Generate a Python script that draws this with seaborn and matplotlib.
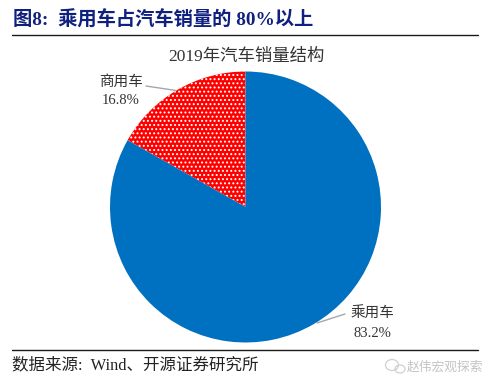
import numpy as np
import matplotlib
matplotlib.use("Agg")
import matplotlib.pyplot as plt
from matplotlib.patches import Ellipse
import seaborn as sns

# data
categories = ["商用车", "乘用车"]
shares = [16.8, 83.2]
pie_colors = ["#FF0000", "#0070C0"]
hatches = ["....", None]
chart_title = "2019年汽车销量结构"
fig_title = "图8:  乘用车占汽车销量的 80%以上"
source_text = "数据来源:  Wind、开源证券研究所"
watermark = "赵伟宏观探索"

W, H = 500, 389

sns.set_theme(style="white")
plt.rcParams['font.family'] = ['Liberation Serif', 'Noto Sans CJK SC']
plt.rcParams['hatch.linewidth'] = 0.9


def px(x, y):
    # pixel position to figure fraction
    return x / W, 1 - y / H


fig = plt.figure(figsize=(W / 100, H / 100), dpi=100)

# pie
cx, cy, r = 245.5, 207, 135.5
ax = fig.add_axes([(cx - r) / W, 1 - (cy + r) / H, 2 * r / W, 2 * r / H])
wedges, _ = ax.pie(shares, colors=pie_colors, startangle=90, counterclock=True, radius=1)
ax.set_xlim(-1, 1)
ax.set_ylim(-1, 1)
for w, h in zip(wedges, hatches):
    w.set_linewidth(0)
    if h:
        w.set_hatch(h)
        w.set_edgecolor("white")

# slice labels and leader lines
label_pos = [(121, 91), (372, 323.5)]
line_pos = [[(146, 86), (176, 90.5)], [(345, 314), (317, 323)]]
for name, val, lp, lines in zip(categories, shares, label_pos, line_pos):
    fig.text(*px(*lp), f"{name}\n{val}%", ha="center", va="center", fontsize=10.5,
             color="#333333", linespacing=1.55)
    xs, ys = zip(*[px(*p) for p in lines])
    fig.add_artist(plt.Line2D(xs, ys, color="#A6A6A6", lw=1))

# titles
fig.text(*px(246, 57), chart_title, ha="center", va="center", fontsize=12.5, color="#333333")
fig.text(*px(13, 20), fig_title, ha="left", va="center", fontsize=13.9,
         color="#10207F", fontweight="bold")
fig.text(*px(12, 365), source_text, ha="left", va="center", fontsize=11.9, color="#222222")
fig.text(*px(483, 367), watermark, ha="right", va="center", fontsize=9.2, color="#C4C4C4")

# watermark icon
for (ex, ey, ew, eh) in [(392, 365, 13, 11), (400, 369, 10, 8)]:
    ex, ey = px(ex, ey)
    fig.add_artist(Ellipse((ex, ey), ew / W, eh / H, transform=fig.transFigure,
                           fill=False, edgecolor="#D0D0D0", lw=0.9))

# rules
for y in [35, 350]:
    xs, ys = zip(px(12, y), px(478, y))
    fig.add_artist(plt.Line2D(xs, ys, color="#1A1A1A", lw=1))

fig.savefig("out.png", dpi=100)
